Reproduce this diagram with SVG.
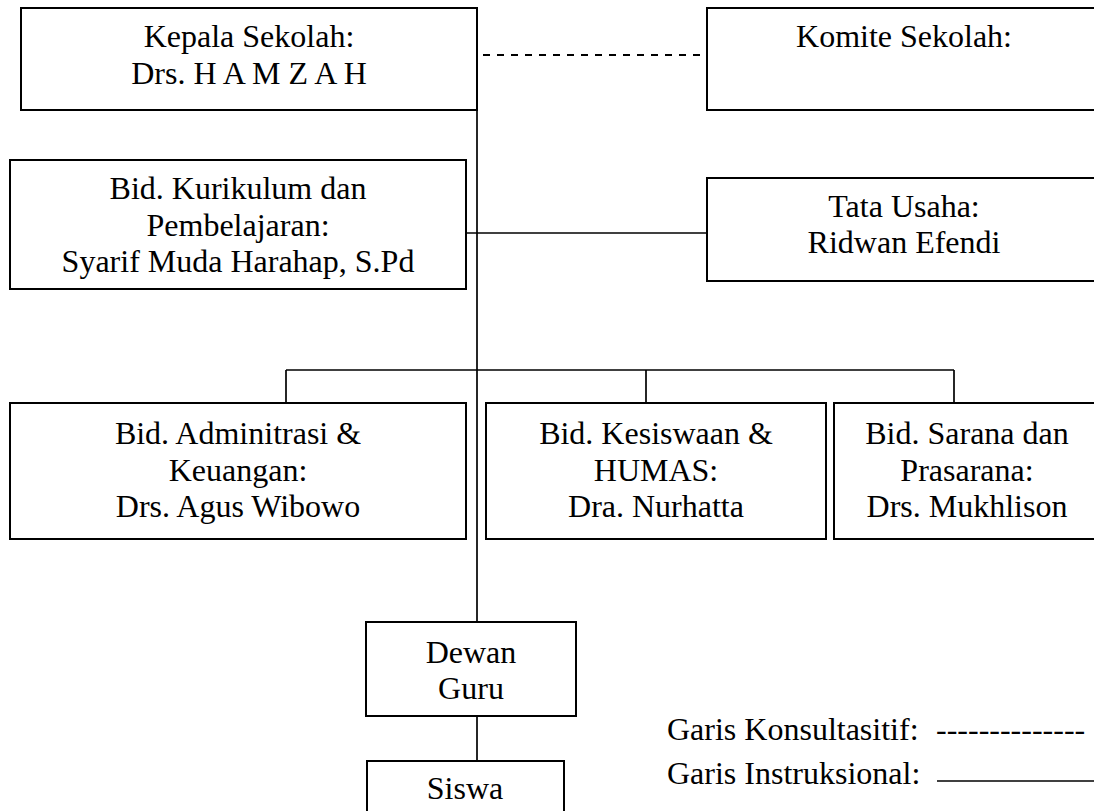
<svg xmlns="http://www.w3.org/2000/svg" width="1094" height="811" viewBox="0 0 1094 811">
  <style>
    .box { fill: #ffffff; stroke: #000000; stroke-width: 2; }
    .t { font-family: "Liberation Serif", "Times New Roman", serif; font-size: 32px; fill: #000000; text-anchor: middle; }
    .tl { font-family: "Liberation Serif", "Times New Roman", serif; font-size: 32px; fill: #000000; }
    .ln { stroke: #000000; stroke-width: 1.7; fill: none; }
    .dash { stroke: #000000; stroke-width: 2.2; fill: none; stroke-dasharray: 7 7; }
  </style>
  <rect width="1094" height="811" fill="#ffffff"/>

  <g id="connectors">
    <line class="ln" x1="477" y1="110" x2="477" y2="622"/>
    <line class="dash" x1="483" y1="55" x2="707" y2="55"/>
    <line class="ln" x1="466" y1="233" x2="707" y2="233"/>
    <line class="ln" x1="286" y1="370" x2="954" y2="370"/>
    <line class="ln" x1="286" y1="370" x2="286" y2="403"/>
    <line class="ln" x1="646" y1="370" x2="646" y2="403"/>
    <line class="ln" x1="954" y1="370" x2="954" y2="403"/>
    <line class="ln" x1="477" y1="716" x2="477" y2="761"/>
  </g>

  <g id="kepala">
    <rect class="box" x="21" y="8" width="456" height="102"/>
    <text class="t" x="249" y="47">Kepala Sekolah:</text>
    <text class="t" x="249" y="84">Drs. H A M Z A H</text>
  </g>

  <g id="komite">
    <rect class="box" x="707" y="8" width="400" height="102"/>
    <text class="t" x="904" y="47">Komite Sekolah:</text>
  </g>

  <g id="kurikulum">
    <rect class="box" x="10" y="160" width="456" height="129"/>
    <text class="t" x="238" y="199">Bid. Kurikulum dan</text>
    <text class="t" x="238" y="235.5">Pembelajaran:</text>
    <text class="t" x="238" y="272">Syarif Muda Harahap, S.Pd</text>
  </g>

  <g id="tatausaha">
    <rect class="box" x="707" y="178" width="400" height="103"/>
    <text class="t" x="904" y="217">Tata Usaha:</text>
    <text class="t" x="904" y="253">Ridwan Efendi</text>
  </g>

  <g id="administrasi">
    <rect class="box" x="10" y="403" width="456" height="136"/>
    <text class="t" x="238" y="444">Bid. Adminitrasi &amp;</text>
    <text class="t" x="238" y="480.5">Keuangan:</text>
    <text class="t" x="238" y="517">Drs. Agus Wibowo</text>
  </g>

  <g id="kesiswaan">
    <rect class="box" x="486" y="403" width="340" height="136"/>
    <text class="t" x="656" y="444">Bid. Kesiswaan &amp;</text>
    <text class="t" x="656" y="480.5">HUMAS:</text>
    <text class="t" x="656" y="517">Dra. Nurhatta</text>
  </g>

  <g id="sarana">
    <rect class="box" x="834" y="403" width="270" height="136"/>
    <text class="t" x="967" y="444">Bid. Sarana dan</text>
    <text class="t" x="967" y="480.5">Prasarana:</text>
    <text class="t" x="967" y="517">Drs. Mukhlison</text>
  </g>

  <g id="dewanguru">
    <rect class="box" x="366" y="622" width="210" height="94"/>
    <text class="t" x="471" y="663">Dewan</text>
    <text class="t" x="471" y="699">Guru</text>
  </g>

  <g id="siswa">
    <rect class="box" x="367" y="761" width="197" height="60"/>
    <text class="t" x="465" y="799">Siswa</text>
  </g>

  <g id="legend">
    <text class="tl" x="667" y="740">Garis Konsultasitif:</text>
    <text class="tl" x="936" y="740">--------------</text>
    <text class="tl" x="667" y="784">Garis Instruksional:</text>
    <line class="ln" x1="937" y1="781" x2="1094" y2="781"/>
  </g>
</svg>
